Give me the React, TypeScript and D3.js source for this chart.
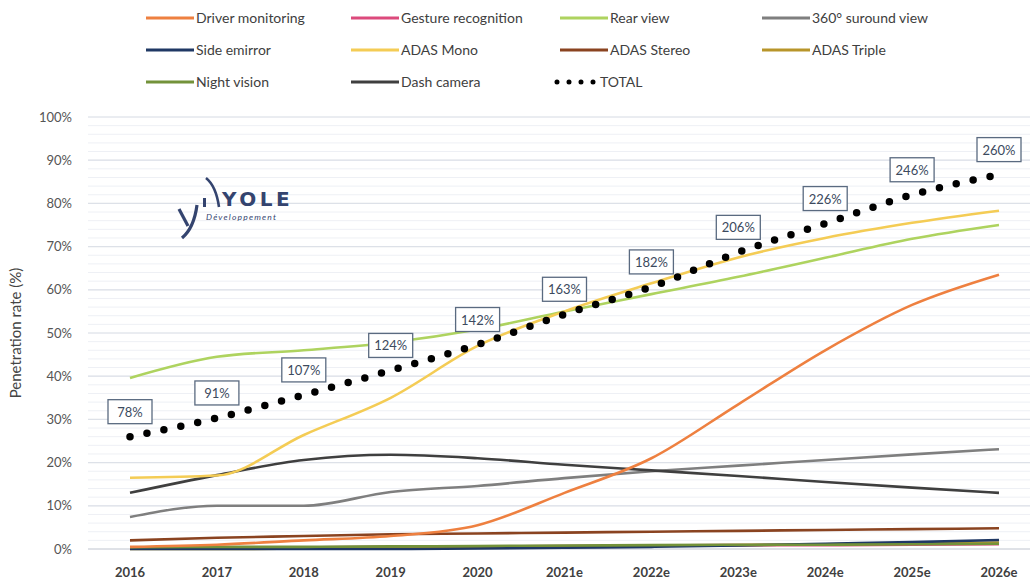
import * as d3 from "d3";

const years = ["2016", "2017", "2018", "2019", "2020", "2021e", "2022e", "2023e", "2024e", "2025e", "2026e"];

// penetration rate per application (%)
const driverMonitoring = [0.5, 1, 2, 3, 5.5, 13, 21, 33.5, 46, 56.5, 63.5];
const gestureRecognition = [0.3, 0.4, 0.4, 0.5, 0.6, 0.7, 0.8, 0.9, 0.9, 1, 1.1];
const rearView = [39.6, 44.5, 46, 47.8, 50.8, 55, 59, 63, 67.4, 71.8, 75];
const surroundView = [7.4, 10, 10, 13.2, 14.6, 16.4, 18, 19.3, 20.6, 21.9, 23.1];
const sideMirror = [0, 0, 0, 0, 0.1, 0.3, 0.5, 0.8, 1.2, 1.6, 2.1];
const adasMono = [16.5, 17, 26.4, 35, 47, 55, 61.5, 67.5, 72, 75.5, 78.3];
const adasStereo = [2, 2.6, 3, 3.4, 3.6, 3.8, 4, 4.2, 4.4, 4.6, 4.8];
const adasTriple = [0, 0, 0.1, 0.2, 0.3, 0.5, 0.7, 0.9, 1.1, 1.3, 1.5];
const nightVision = [0.4, 0.5, 0.5, 0.6, 0.7, 0.8, 0.9, 1, 1, 1.1, 1.2];
const dashCamera = [13, 17.1, 20.6, 21.8, 21, 19.5, 18.2, 16.9, 15.5, 14.2, 13];
const total = [78, 91, 107, 124, 142, 163, 182, 206, 226, 246, 260];

const series = [
  { name: "Driver monitoring", values: driverMonitoring, color: "#ee8040" },
  { name: "Gesture recognition", values: gestureRecognition, color: "#dc4a7c" },
  { name: "Rear view", values: rearView, color: "#aed35f" },
  { name: "360° suround view", values: surroundView, color: "#7f7f7f" },
  { name: "Side emirror", values: sideMirror, color: "#1f3864" },
  { name: "ADAS Mono", values: adasMono, color: "#f4cc55" },
  { name: "ADAS Stereo", values: adasStereo, color: "#8a4320" },
  { name: "ADAS Triple", values: adasTriple, color: "#b8952a" },
  { name: "Night vision", values: nightVision, color: "#73923a" },
  { name: "Dash camera", values: dashCamera, color: "#3f3f3f" },
];

// drawing order (bottom first)
const drawOrder = ["Gesture recognition", "ADAS Triple", "Side emirror", "Night vision", "ADAS Stereo", "360° suround view", "Dash camera", "Driver monitoring", "Rear view", "ADAS Mono"];

const W = 1030;
const H = 581;
const FONT = "Lato, 'Open Sans', sans-serif";

export default function App() {
  const x = d3.scalePoint<string>().domain(years).range([130, 999]);
  const y = d3.scaleLinear().domain([0, 100]).range([549, 117]);
  // the TOTAL curve is drawn at a third of its value
  const yTotal = d3.scaleLinear().domain([0, 300]).range([549, 117]);

  const line = (vals: number[], ys: d3.ScaleLinear<number, number>) =>
    d3
      .line<number>()
      .x((_, i) => x(years[i]) as number)
      .y((d) => ys(d))
      .curve(d3.curveMonotoneX)(vals) as string;

  const legendCols = [196, 401, 610, 812];
  const legendRows = [18, 50, 82];
  const legendItems = [
    ...series.map((s) => ({ name: s.name, color: s.color, dotted: false })),
    { name: "TOTAL", color: "#000", dotted: true },
  ];

  return (
    <svg width={W} height={H} style={{ position: "absolute", left: 0, top: 0, background: "#fff" }} fontFamily={FONT}>
      {/* legend */}
      {legendItems.map((it, i) => {
        const lx = legendCols[i % 4];
        const ly = legendRows[Math.floor(i / 4)];
        return (
          <g key={it.name}>
            {it.dotted ? (
              <line x1={lx - 53} x2={lx - 16} y1={ly} y2={ly} stroke="#000" strokeWidth={5} strokeLinecap="round" strokeDasharray="0 12" />
            ) : (
              <line x1={lx - 50} x2={lx - 2} y1={ly} y2={ly} stroke={it.color} strokeWidth={3} />
            )}
            <text x={it.dotted ? lx - 10 : lx} y={ly + 5} fontSize={14} fill="#404040">
              {it.name}
            </text>
          </g>
        );
      })}

      {/* grid */}
      {y.ticks(50).map((t) => (
        <line key={"m" + t} x1={88} x2={W} y1={y(t)} y2={y(t)} stroke="#eef0f5" strokeWidth={1} />
      ))}
      {y.ticks(10).map((t) => (
        <line key={"g" + t} x1={88} x2={W} y1={y(t)} y2={y(t)} stroke={t === 0 ? "#c8ccd4" : "#dde1e8"} strokeWidth={1.2} />
      ))}

      {/* y axis */}
      {y.ticks(10).map((t) => (
        <text key={"y" + t} x={72} y={y(t) + 4.5} textAnchor="end" fontSize={13} fill="#555">
          {t}%
        </text>
      ))}
      <text transform="translate(21,333) rotate(-90)" textAnchor="middle" fontSize={15} fill="#444">
        Penetration rate (%)
      </text>

      {/* x axis */}
      {years.map((yr) => (
        <text key={yr} x={x(yr)} y={577} textAnchor="middle" fontSize={13} fontWeight="bold" fill="#404040">
          {yr}
        </text>
      ))}

      {/* logo */}
      <g fill="#34446f" stroke="#34446f">
        <path d="M179 209 L188 226" strokeWidth={3.2} fill="none" />
        <path d="M197 205 Q194 228 182 238" strokeWidth={3.2} fill="none" />
        <path d="M206 178 Q216 186 219 207" strokeWidth={2.6} fill="none" />
        <rect x={203} y={198} width={3} height={9} stroke="none" />
        <text x={222} y={206} fontSize={20} fontWeight="bold" letterSpacing={3.5} stroke="none" fontFamily="'DejaVu Sans', sans-serif">
          YOLE
        </text>
        <text x={206} y={220} fontSize={8.5} fontStyle="italic" letterSpacing={1.2} stroke="none">
          Développement
        </text>
      </g>

      {/* series */}
      {drawOrder.map((n) => {
        const s = series.find((d) => d.name === n)!;
        return <path key={n} d={line(s.values, y)} fill="none" stroke={s.color} strokeWidth={2.6} />;
      })}

      {/* total */}
      <path d={line(total, yTotal)} fill="none" stroke="#000" strokeWidth={7.5} strokeLinecap="round" strokeDasharray="0 17.3" />
      {total.map((t, i) => {
        const cx = x(years[i]) as number;
        const cy = yTotal(t) - 25;
        return (
          <g key={"t" + i}>
            <rect x={cx - 22} y={cy - 12} width={44} height={24} fill="#fff" stroke="#5a6a80" strokeWidth={1.3} />
            <text x={cx} y={cy + 5} textAnchor="middle" fontSize={13} fill="#3c4a5e">
              {t}%
            </text>
          </g>
        );
      })}
    </svg>
  );
}
